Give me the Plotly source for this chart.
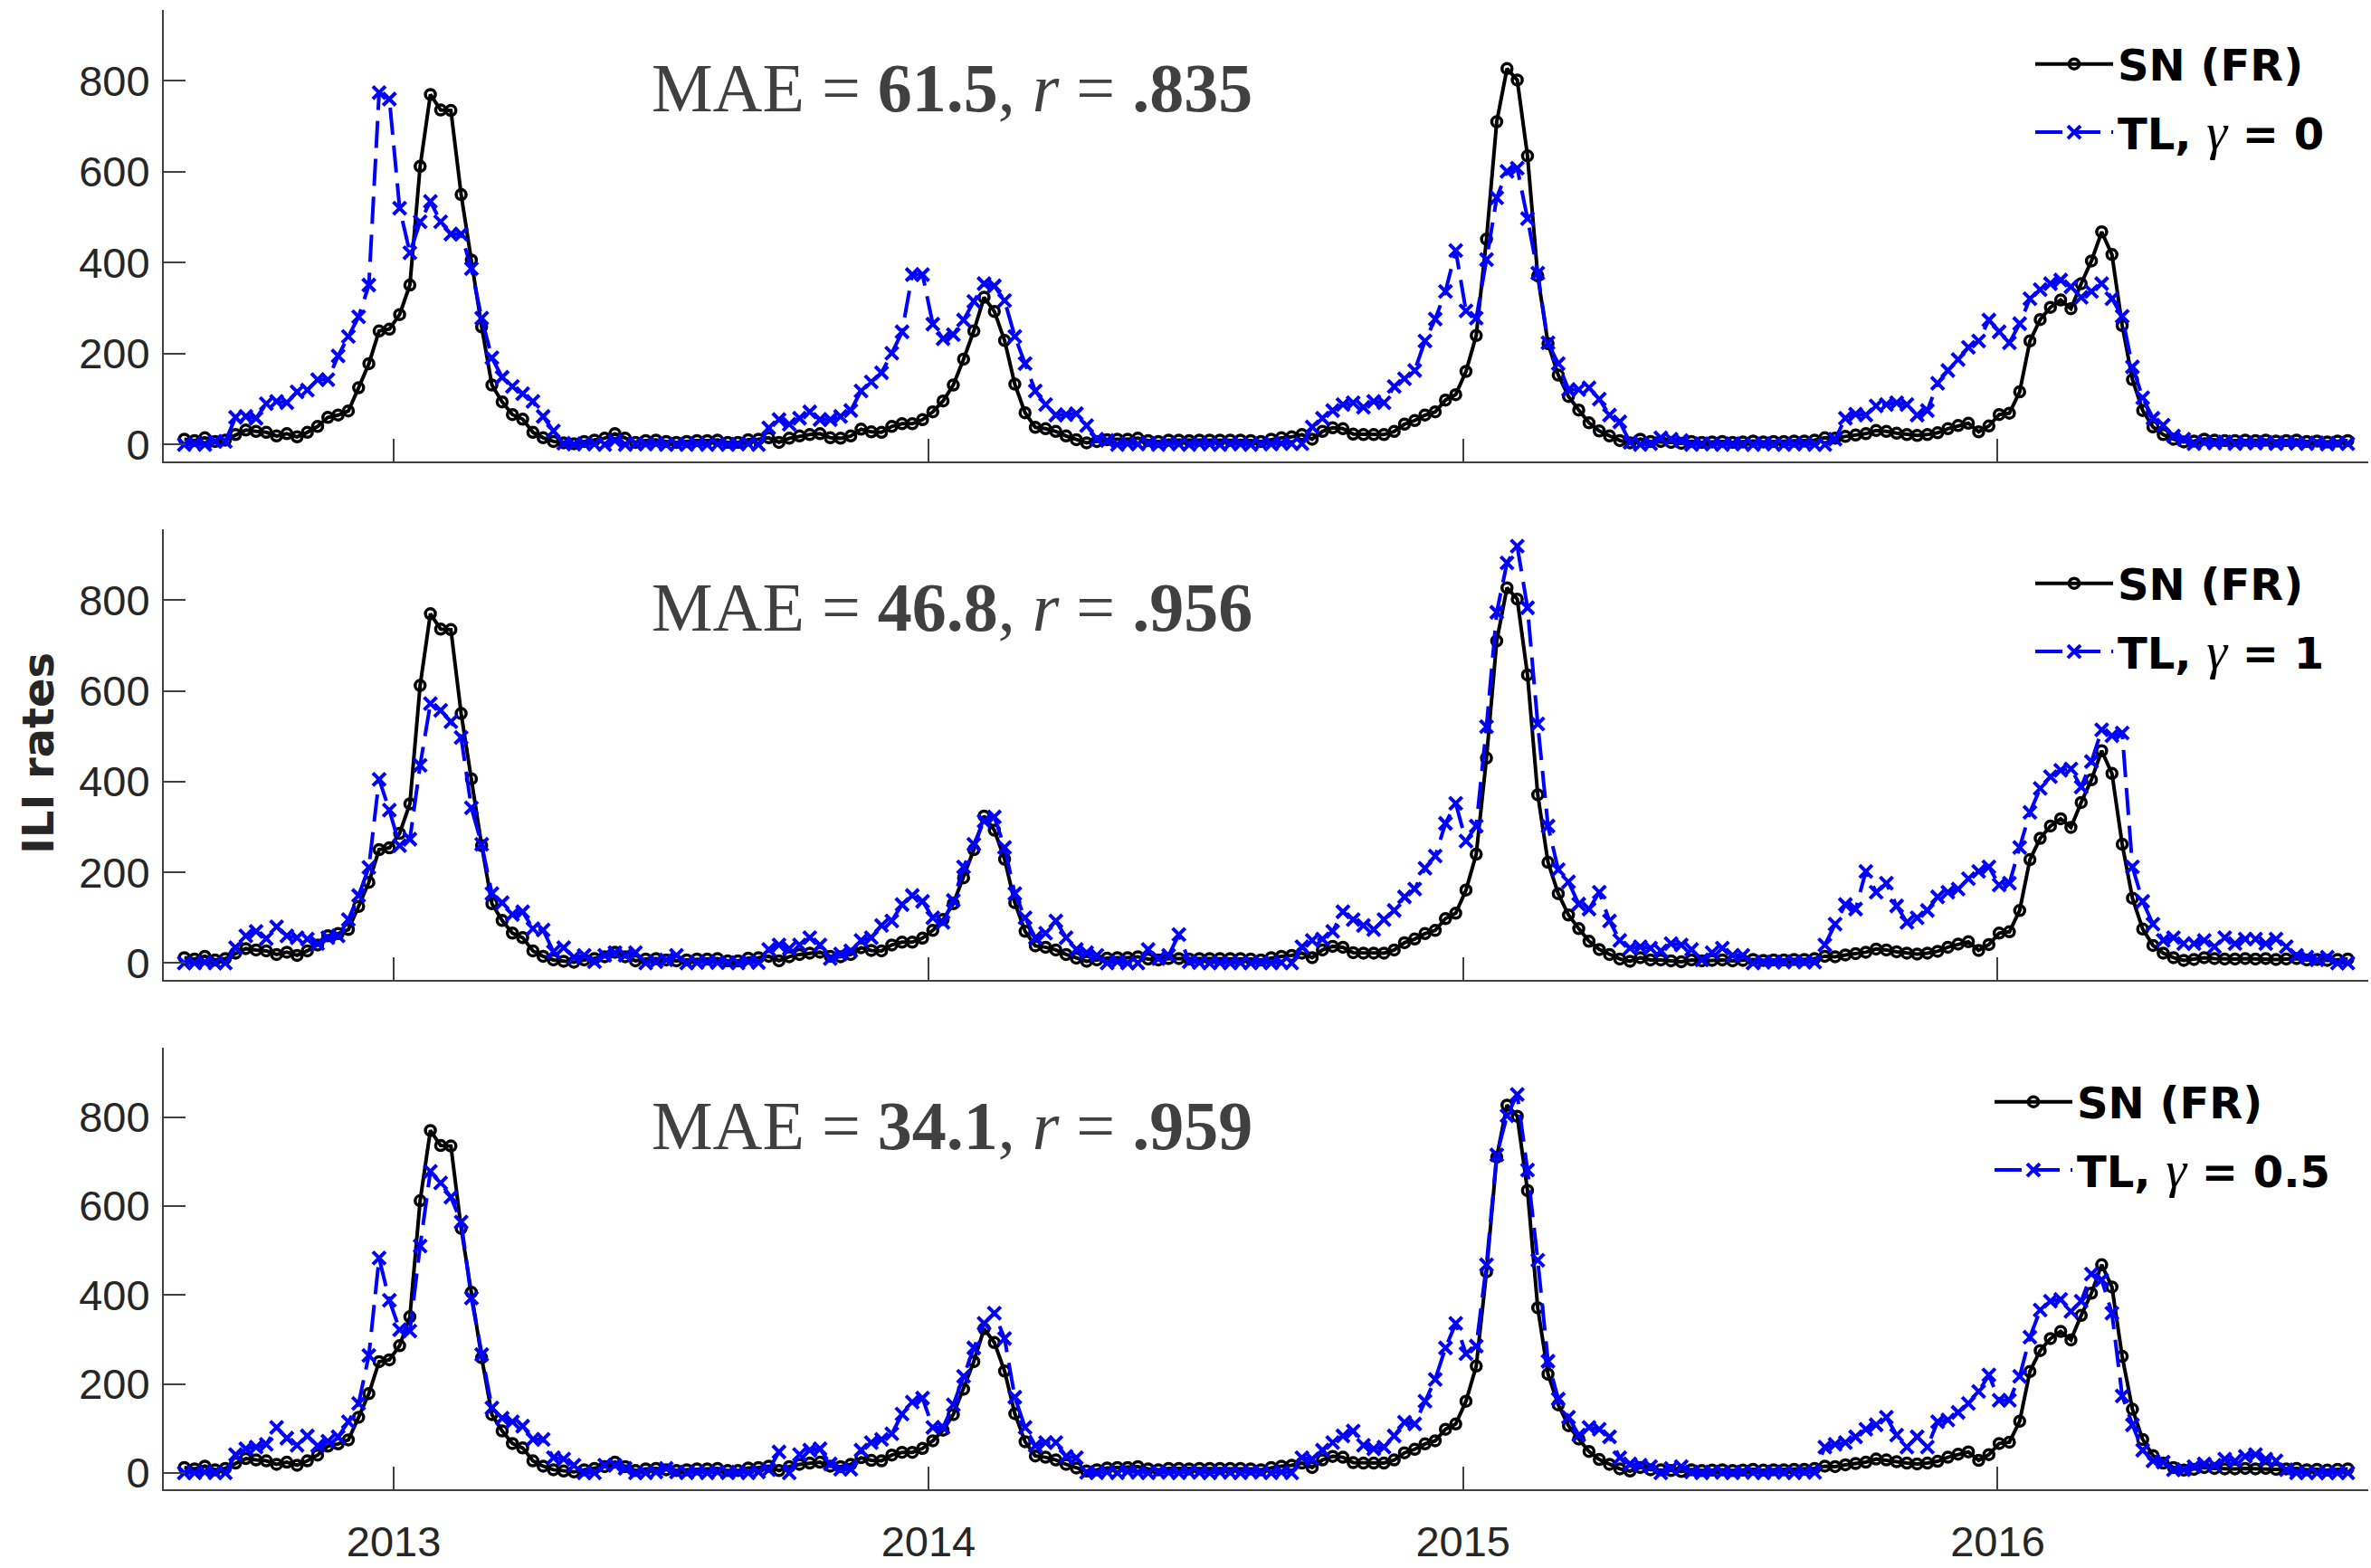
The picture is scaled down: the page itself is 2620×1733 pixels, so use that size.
import plotly.graph_objects as go
import pandas as pd

# ---------------- data ----------------
start_date = "2012-08-11"
n_weeks = 212

sn_fr = [12, 9, 15, 7, 10, 22, 32, 29, 27, 19,
         24, 17, 27, 40, 60, 65, 74, 125, 178, 250,
         254, 286, 351, 612, 770, 736, 735, 550, 406, 259,
         131, 94, 66, 56, 27, 15, 7, 4, 2, 7,
         10, 14, 24, 14, 5, 9, 10, 7, 5, 7,
         9, 9, 10, 5, 5, 11, 12, 15, 5, 14,
         19, 22, 24, 15, 14, 19, 34, 28, 27, 40,
         46, 46, 55, 72, 96, 131, 188, 250, 324, 293,
         229, 133, 70, 38, 35, 29, 19, 11, 4, 7,
         11, 12, 12, 14, 9, 7, 10, 10, 9, 10,
         10, 10, 10, 10, 9, 7, 12, 15, 17, 22,
         12, 29, 37, 35, 23, 22, 22, 22, 29, 45,
         53, 65, 72, 98, 110, 161, 240, 452, 710, 827,
         802, 635, 371, 222, 153, 106, 76, 48, 30, 19,
         9, 4, 12, 7, 7, 5, 3, 7, 5, 6,
         7, 5, 6, 8, 6, 7, 7, 8, 8, 10,
         15, 14, 18, 21, 24, 31, 29, 25, 22, 20,
         22, 26, 35, 42, 47, 28, 41, 66, 69, 116,
         228, 275, 302, 318, 299, 354, 404, 468, 418, 262,
         143, 75, 39, 22, 12, 6, 8, 12, 10, 9,
         9, 10, 9, 10, 8, 9, 10, 7, 8, 6,
         8, 9]

tl_gamma_0 = [0, 2, 0, 7, 7, 60, 62, 58, 90, 95,
              92, 116, 120, 143, 143, 195, 238, 281, 351, 774,
              760, 520, 422, 490, 535, 490, 463, 463, 387, 278,
              191, 148, 128, 112, 95, 62, 30, 3, 1, 2,
              1, 0, 9, 0, 2, 1, 2, 0, 1, 0,
              2, 0, 1, 0, 1, 2, 0, 37, 55, 45,
              58, 72, 55, 55, 62, 75, 118, 138, 158, 201,
              248, 374, 374, 265, 233, 242, 274, 315, 354, 349,
              317, 238, 178, 118, 88, 65, 66, 68, 42, 12,
              9, 0, 2, 1, 3, 0, 2, 1, 0, 2,
              1, 0, 2, 1, 0, 2, 1, 3, 2, 2,
              39, 58, 75, 88, 92, 82, 95, 92, 128, 145,
              163, 228, 276, 337, 427, 294, 278, 407, 543, 601,
              608, 497, 377, 224, 178, 121, 121, 125, 100, 65,
              50, 5, 0, 2, 15, 12, 9, 0, 2, 1,
              0, 2, 1, 0, 2, 1, 0, 1, 2, 0,
              0, 12, 58, 67, 65, 85, 88, 92, 88, 65,
              75, 135, 163, 187, 214, 228, 274, 248, 224, 266,
              321, 341, 354, 362, 347, 324, 337, 354, 321, 282,
              171, 103, 58, 43, 19, 12, 2, 5, 3, 6,
              2, 4, 3, 5, 2, 4, 3, 2, 4, 1,
              3, 2]

tl_gamma_1 = [0, 0, 2, 0, 0, 34, 60, 70, 54, 80,
              60, 56, 53, 43, 56, 60, 96, 149, 211, 405,
              337, 259, 273, 436, 572, 557, 532, 497, 342, 262,
              153, 133, 107, 113, 76, 73, 25, 34, 13, 17,
              3, 17, 23, 17, 23, 0, 3, 7, 17, 0,
              1, 3, 1, 1, 0, 3, 1, 30, 40, 32,
              40, 56, 40, 10, 20, 27, 50, 56, 83, 93,
              129, 149, 136, 100, 90, 138, 212, 262, 313, 322,
              255, 153, 100, 56, 66, 93, 56, 30, 23, 17,
              0, 3, 0, 0, 30, 10, 17, 63, 3, 1,
              0, 1, 0, 1, 0, 1, 0, 1, 0, 36,
              50, 53, 70, 113, 96, 83, 74, 96, 116, 146,
              163, 209, 236, 308, 352, 269, 302, 521, 773, 882,
              919, 783, 527, 302, 206, 179, 130, 119, 156, 93,
              50, 33, 36, 33, 27, 43, 40, 30, 7, 23,
              33, 17, 17, 0, 2, 2, 2, 3, 2, 2,
              40, 86, 129, 119, 202, 156, 176, 126, 90, 100,
              116, 146, 156, 163, 186, 202, 212, 172, 176, 255,
              332, 385, 411, 425, 428, 388, 444, 514, 501, 507,
              212, 136, 86, 50, 56, 43, 43, 50, 36, 56,
              43, 53, 53, 43, 53, 36, 17, 13, 7, 13,
              0, 0]

tl_gamma_05 = [0, 0, 2, 0, 0, 41, 54, 58, 64, 102,
               78, 62, 83, 61, 71, 81, 115, 156, 264, 483,
               388, 322, 319, 510, 678, 652, 620, 564, 393, 266,
               146, 123, 115, 105, 75, 75, 34, 31, 17, 0,
               0, 17, 17, 10, 0, 0, 2, 10, 2, 0,
               2, 0, 2, 0, 2, 0, 2, 7, 47, 0,
               41, 51, 54, 20, 8, 8, 51, 68, 75, 88,
               132, 159, 168, 102, 102, 153, 217, 281, 336, 359,
               302, 170, 102, 61, 68, 68, 37, 34, 1, 0,
               2, 0, 3, 1, 0, 2, 1, 0, 2, 1,
               0, 2, 1, 0, 2, 1, 0, 2, 0, 34,
               31, 51, 68, 83, 94, 62, 54, 58, 83, 114,
               110, 161, 210, 281, 336, 268, 285, 468, 715, 803,
               851, 681, 478, 251, 166, 125, 85, 102, 98, 81,
               34, 20, 17, 14, 0, 10, 14, 2, 0, 2,
               1, 0, 2, 1, 0, 2, 1, 0, 2, 1,
               58, 64, 68, 81, 98, 108, 125, 85, 58, 81,
               58, 115, 119, 136, 156, 183, 220, 163, 163, 217,
               305, 366, 386, 390, 363, 386, 447, 434, 359, 173,
               108, 51, 27, 24, 7, 7, 14, 20, 17, 31,
               27, 37, 41, 31, 27, 7, 0, 0, 0, 0,
               0, 0]

gamma_labels = ["0", "1", "0.5"]
mae_values = ["61.5", "46.8", "34.1"]
r_values = [".835", ".956", ".959"]
year_tick_dates = ["2013-01-01", "2014-01-01", "2015-01-01", "2016-01-01"]
year_tick_labels = ["2013", "2014", "2015", "2016"]
y_tick_values = [0, 200, 400, 600, 800]
y_label = "ILI rates"
truth_name = "SN (FR)"

# ---------------- layout geometry ----------------
W, H = 2620, 1733
ML, MR = 181, 3
PW = W - ML - MR
panel_px = [(11, 510), (585, 1083), (1158, 1646)]
legend_right_px = [2574, 2574, 2580]


def fy(p):
    return 1 - p / H


def fx(p):
    return (p - ML) / PW


dates = pd.date_range(start_date, periods=n_weeks, freq="7D")
tl_series = [tl_gamma_0, tl_gamma_1, tl_gamma_05]
assert all(len(s) == n_weeks for s in [sn_fr] + tl_series)

AX = "#404040"
TICKFONT = dict(family="Liberation Sans, Arial, sans-serif", size=47, color="#262626")

fig = go.Figure()
layout = dict(width=W, height=H, plot_bgcolor="white", paper_bgcolor="white",
              margin=dict(l=ML, r=MR, t=0, b=0, autoexpand=False),
              showlegend=True, annotations=[])

gamma_html = '<span style="font-family:Liberation Serif;font-weight:normal;font-size:58px"><i>γ</i></span>'

for i in range(3):
    sfx = "" if i == 0 else str(i + 1)
    xa, ya = "x" + sfx, "y" + sfx
    lg = "legend" + sfx
    fig.add_trace(go.Scatter(
        x=dates, y=sn_fr, mode="lines+markers", name=truth_name,
        line=dict(color="black", width=4),
        marker=dict(symbol="circle-open", size=11, color="black", line=dict(width=3.5, color="black")),
        xaxis=xa, yaxis=ya, legend=lg, legendgroup="sn" + sfx))
    fig.add_trace(go.Scatter(
        x=dates, y=tl_series[i], mode="lines+markers",
        name="TL, " + gamma_html + " = " + gamma_labels[i],
        line=dict(color="#0000FF", width=4, dash="30px,12px"),
        marker=dict(symbol="x-thin-open", size=14, color="#0000FF", line=dict(width=4, color="#0000FF")),
        xaxis=xa, yaxis=ya, legend=lg, legendgroup="tl" + sfx))

    top, bot = panel_px[i]
    layout["xaxis" + sfx] = dict(
        domain=[0, 1], anchor=ya, type="date",
        range=["2012-07-28", "2016-09-10"],
        tickvals=year_tick_dates, ticktext=year_tick_labels,
        showticklabels=(i == 2), ticks="inside", ticklen=25, tickwidth=1.5, tickcolor=AX,
        showline=True, linecolor=AX, linewidth=2, showgrid=False, zeroline=False,
        tickfont=TICKFONT, ticklabelstandoff=16)
    layout["yaxis" + sfx] = dict(
        domain=[fy(bot), fy(top)], anchor=xa, range=[-37, 956],
        tickvals=y_tick_values, ticks="inside", ticklen=24, tickwidth=1.5, tickcolor=AX,
        showline=True, linecolor=AX, linewidth=2, showgrid=False, zeroline=False,
        tickfont=TICKFONT, ticklabelstandoff=4)
    layout[lg] = dict(
        x=fx(legend_right_px[i]), xanchor="right", y=fy(top + 22), yanchor="top",
        bgcolor="rgba(0,0,0,0)", borderwidth=0,
        font=dict(family="DejaVu Sans", size=48, color="black", weight="bold"),
        itemwidth=86, tracegroupgap=10, traceorder="grouped")
    layout["annotations"].append(dict(
        xref="paper", yref="paper", x=fx(718), y=fy(top + 86), xanchor="left", yanchor="middle",
        text="MAE = <b>" + mae_values[i] + "</b>, <i>r</i> = <b>" + r_values[i] + "</b>",
        showarrow=False, font=dict(family="Liberation Serif", size=76, color="#404040")))

layout["annotations"].append(dict(
    xref="paper", yref="paper", x=fx(42), y=fy(833), xanchor="center", yanchor="middle",
    text=y_label, textangle=-90, showarrow=False,
    font=dict(family="DejaVu Sans", size=48, color="#262626", weight="bold")))

fig.update_layout(**layout)
fig.write_html("out.html")
